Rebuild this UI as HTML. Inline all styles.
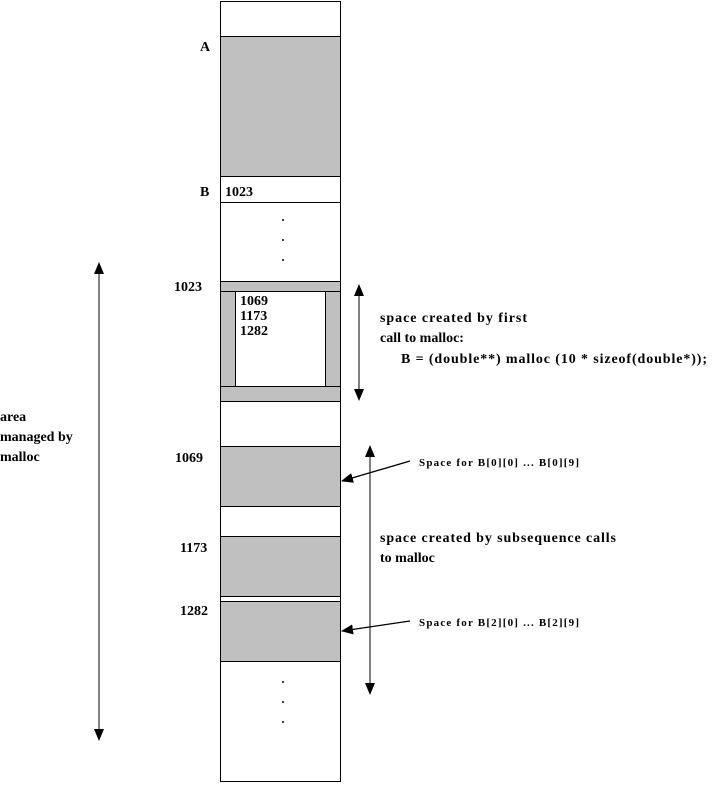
<!DOCTYPE html>
<html><head><style>
body{margin:0;background:#fff}
svg text{font-family:"Liberation Serif",serif;font-weight:bold;fill:#000}
</style></head><body>
<svg width="725" height="783" xmlns="http://www.w3.org/2000/svg">
<defs>
<marker id="ah" markerWidth="12" markerHeight="10" refX="11" refY="5" orient="auto-start-reverse" markerUnits="userSpaceOnUse">
<path d="M0,0 L12,5 L0,10 Z" fill="#000"/></marker>
</defs>
<rect x="220.5" y="1.5" width="120" height="780" fill="#fff" stroke="#000"/>
<rect x="220.5" y="36.5" width="120" height="140" fill="#c0c0c0" stroke="#000"/>
<line x1="220" y1="202.5" x2="340" y2="202.5" stroke="#000"/>
<rect x="220.5" y="281.5" width="120" height="120" fill="#c0c0c0" stroke="#000"/>
<rect x="235.5" y="291.5" width="90" height="95" fill="#fff" stroke="#000"/>
<line x1="220" y1="291.5" x2="340" y2="291.5" stroke="#000"/>
<line x1="220" y1="386.5" x2="340" y2="386.5" stroke="#000"/>
<rect x="220.5" y="446.5" width="120" height="60" fill="#c0c0c0" stroke="#000"/>
<rect x="220.5" y="536.5" width="120" height="60" fill="#c0c0c0" stroke="#000"/>
<rect x="220.5" y="601.5" width="120" height="60" fill="#c0c0c0" stroke="#000"/>
<g fill="#000">
<circle cx="283" cy="220" r="1"/><circle cx="283" cy="240" r="1"/><circle cx="283" cy="260" r="1"/>
<circle cx="283" cy="682" r="1"/><circle cx="283" cy="702" r="1"/><circle cx="283" cy="722" r="1"/>
</g>
<line x1="99" y1="263" x2="99" y2="740" stroke="#000" marker-start="url(#ah)" marker-end="url(#ah)"/>
<line x1="359" y1="285" x2="359" y2="400" stroke="#000" marker-start="url(#ah)" marker-end="url(#ah)"/>
<line x1="370" y1="446" x2="370" y2="694" stroke="#000" marker-start="url(#ah)" marker-end="url(#ah)"/>
<line x1="410" y1="461" x2="342" y2="481" stroke="#000" stroke-width="1.3" marker-end="url(#ah)"/>
<line x1="410" y1="621" x2="342" y2="631" stroke="#000" stroke-width="1.3" marker-end="url(#ah)"/>
<g font-size="14">
<text x="200" y="51">A</text>
<text x="200" y="196">B</text>
<text x="225" y="196">1023</text>
<text x="174" y="291">1023</text>
<text x="240" y="305">1069</text>
<text x="240" y="320">1173</text>
<text x="240" y="335">1282</text>
<text x="175" y="462">1069</text>
<text x="180" y="552">1173</text>
<text x="180" y="615">1282</text>
<text x="0" y="421">area</text>
<text x="0" y="441">managed by</text>
<text x="0" y="461">malloc</text>
<text x="380" y="322" textLength="147">space created by first</text>
<text x="380" y="342">call to malloc:</text>
<text x="401" y="363" textLength="306">B = (double**) malloc (10 * sizeof(double*));</text>
<text x="380" y="542" textLength="236">space created by subsequence calls</text>
<text x="380" y="562">to malloc</text>
</g>
<g font-size="11">
<text x="419" y="466" textLength="160">Space for B[0][0] ... B[0][9]</text>
<text x="419" y="626" textLength="160">Space for B[2][0] ... B[2][9]</text>
</g>
</svg>
</body></html>
